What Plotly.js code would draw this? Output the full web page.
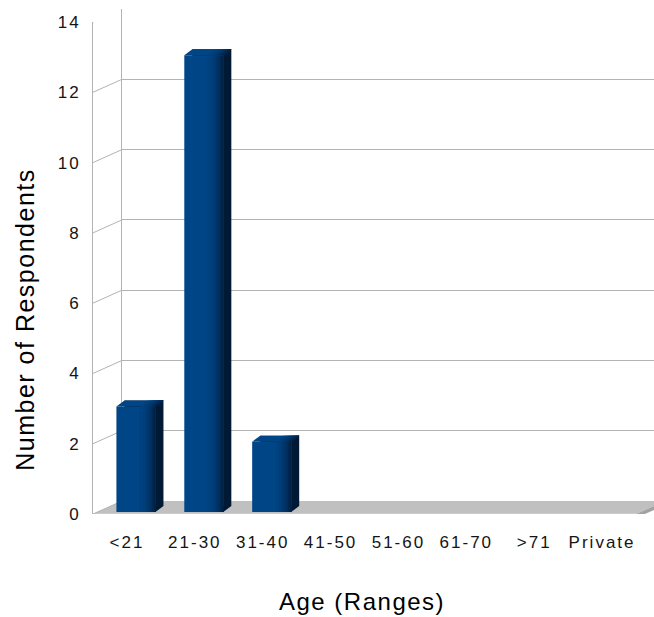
<!DOCTYPE html>
<html>
<head>
<meta charset="utf-8">
<script src="https://cdn.plot.ly/plotly-3.0.1.min.js"></script>
<style>
  html, body { margin: 0; padding: 0; background: #ffffff; }
  #chart { width: 654px; height: 617px; }
  #chart .xtick text, #chart .ytick text { letter-spacing: 2px; }
  #chart .annotation-text { letter-spacing: 1.5px; }
</style>
</head>
<body>
<div id="chart"></div>
<script>
// Survey: number of respondents in each age bracket
const ageRanges = ['<21', '21-30', '31-40', '41-50', '51-60', '61-70', '>71', 'Private'];
const respondents = [3, 13, 2, 0, 0, 0, 0, 0];
const yTickValues = [0, 2, 4, 6, 8, 10, 12, 14];

// ---- geometry of the pseudo-3D box (pixels) ----
const W = 654, H = 617;
const FRONT = { left: 93, right: 636, top: 22, bottom: 514 };  // front edge of floor / left wall
const WALL = { dx: 29, dy: 13 };                                 // depth of the box
const BAR = { dx: 9, dy: 2, width: 0.575, depthX: 8, depthY: 6 }; // bar placement and block depth
const nCat = ageRanges.length;
const catPx = (FRONT.right - FRONT.left) / nCat;
const barPx = BAR.width * catPx;

const xd = (a, b) => [a / W, Math.min(1, b / W)];
const yd = (top, bottom) => [1 - bottom / H, 1 - top / H];

const FONT = 'Liberation Sans, Arial, Helvetica, sans-serif';
const GRID = '#b3b3b3';

// front face shading: each layer starts at the given fraction of the face
// width and runs to its right edge, darkening towards the side
const faceShades = [
  [0.00, '#004586'],
  [0.60, '#004280'],
  [0.68, '#003e79'],
  [0.75, '#003971'],
  [0.81, '#003468'],
  [0.87, '#002e5d'],
  [0.92, '#002851'],
  [0.96, '#002245']
];
const SIDE = '#001a36';

const traces = [
  // registers the categories on the front axes (draws nothing)
  { type: 'scatter', mode: 'none', x: ageRanges, y: respondents, xaxis: 'x', yaxis: 'y',
    hoverinfo: 'skip', showlegend: false },
  { type: 'scatter', mode: 'none', x: ageRanges, y: respondents, xaxis: 'x2', yaxis: 'y2',
    hoverinfo: 'skip', showlegend: false },
  // rear of each block (shows as the dark side face)
  { type: 'bar', x: ageRanges, y: respondents, xaxis: 'x3', yaxis: 'y3',
    width: BAR.width, offset: -BAR.width / 2,
    marker: { color: SIDE, line: { width: 0 } }, hoverinfo: 'skip', showlegend: false }
];
// front faces, layered shading
faceShades.forEach(([a, c]) => {
  traces.push({
    type: 'bar', x: ageRanges, y: respondents, xaxis: 'x4', yaxis: 'y4',
    width: (1 - a) * BAR.width, offset: -BAR.width / 2 + a * BAR.width,
    marker: { color: c, line: { width: 0 } },
    name: 'Respondents', hovertemplate: '%{x}: %{y}<extra></extra>', showlegend: false
  });
});

const shapes = [];
const floorAnchor = { xref: 'paper', yref: 'y', xsizemode: 'pixel', ysizemode: 'pixel',
                      xanchor: FRONT.left / W, yanchor: 0, layer: 'below' };
const fw = FRONT.right - FRONT.left;
// floor: top surface, front edge and right end
shapes.push(Object.assign({}, floorAnchor, { type: 'path',
  path: `M0,0 L${fw},0 L${fw + WALL.dx},${WALL.dy} L${WALL.dx},${WALL.dy} Z`,
  fillcolor: '#c0c0c0', line: { width: 0 } }));
shapes.push(Object.assign({}, floorAnchor, { type: 'path',
  path: `M0,0 L${fw},0 L${fw},-4 L0,-4 Z`,
  fillcolor: '#b6b6b6', line: { width: 0 } }));
shapes.push(Object.assign({}, floorAnchor, { type: 'path',
  path: `M0,0 L${fw},0`, line: { color: '#d6d6d6', width: 1 } }));
shapes.push(Object.assign({}, floorAnchor, { type: 'path',
  path: `M${fw},0 L${fw + WALL.dx},${WALL.dy} L${fw + WALL.dx},${WALL.dy - 4} L${fw},-4 Z`,
  fillcolor: '#a3a3a3', line: { width: 0 } }));
// left wall: receding lines at every tick
yTickValues.forEach(v => {
  shapes.push({ type: 'line', xref: 'paper', yref: 'y', xsizemode: 'pixel', ysizemode: 'pixel',
    xanchor: FRONT.left / W, yanchor: v, x0: 0, y0: 0, x1: WALL.dx, y1: WALL.dy,
    line: { color: GRID, width: 1 }, layer: 'below' });
});
// block tops and lower side corners
respondents.forEach((v, i) => {
  if (v <= 0) return;
  const r = barPx / 2;
  faceShades.forEach(([a, c]) => {
    const l = -barPx / 2 + a * barPx;
    shapes.push({ type: 'path', xref: 'x4', yref: 'y4', xsizemode: 'pixel', ysizemode: 'pixel',
      xanchor: i, yanchor: v,
      path: `M${l},0 L${r},0 L${r + BAR.depthX},${BAR.depthY} L${l + BAR.depthX},${BAR.depthY} Z`,
      fillcolor: c, line: { width: 0 }, layer: 'above' });
  });
  shapes.push({ type: 'path', xref: 'x4', yref: 'y4', xsizemode: 'pixel', ysizemode: 'pixel',
    xanchor: i, yanchor: 0,
    path: `M${r},0 L${r},${BAR.depthY} L${r + BAR.depthX},${BAR.depthY} Z`,
    fillcolor: SIDE, line: { width: 0 }, layer: 'above' });
});

const hidden = { visible: false, fixedrange: true };
const layout = {
  width: W, height: H,
  margin: { l: 0, r: 0, t: 0, b: 0 },
  paper_bgcolor: '#ffffff', plot_bgcolor: 'rgba(0,0,0,0)',
  showlegend: false, barmode: 'overlay',
  font: { family: FONT, color: '#1a1a1a' },
  // front frame: carries the tick labels
  xaxis: { domain: xd(FRONT.left, FRONT.right), anchor: 'y', type: 'category',
    range: [-0.5, nCat - 0.5], showgrid: false, zeroline: false, showline: false, ticks: '',
    tickfont: { family: FONT, size: 17, color: '#141414' }, ticklabelstandoff: 16, fixedrange: true },
  yaxis: { domain: yd(FRONT.top, FRONT.bottom), anchor: 'x', range: [0, 14],
    tickmode: 'array', tickvals: yTickValues, showgrid: false, zeroline: false,
    showline: true, linecolor: GRID, linewidth: 1, ticks: '',
    tickfont: { family: FONT, size: 17, color: '#141414' }, ticklabelstandoff: 8, fixedrange: true },
  // back wall: grid
  xaxis2: Object.assign({ domain: xd(FRONT.left + WALL.dx, W), anchor: 'y2', type: 'category',
    range: [-0.5, -0.5 + (W - FRONT.left - WALL.dx) / catPx] }, hidden),
  yaxis2: { domain: yd(FRONT.top - WALL.dy, FRONT.bottom - WALL.dy), anchor: 'x2', range: [0, 14],
    tickmode: 'array', tickvals: yTickValues, showgrid: true, gridcolor: GRID, gridwidth: 1,
    zeroline: false, showline: true, linecolor: GRID, linewidth: 1, ticks: '',
    showticklabels: false, fixedrange: true },
  // rear of the blocks
  xaxis3: Object.assign({ domain: xd(FRONT.left + BAR.dx + BAR.depthX, FRONT.right + BAR.dx + BAR.depthX),
    anchor: 'y3', type: 'category', range: [-0.5, nCat - 0.5] }, hidden),
  yaxis3: Object.assign({ domain: yd(FRONT.top - BAR.dy - BAR.depthY, FRONT.bottom - BAR.dy - BAR.depthY),
    anchor: 'x3', range: [0, 14] }, hidden),
  // front of the blocks
  xaxis4: Object.assign({ domain: xd(FRONT.left + BAR.dx, FRONT.right + BAR.dx),
    anchor: 'y4', type: 'category', range: [-0.5, nCat - 0.5] }, hidden),
  yaxis4: Object.assign({ domain: yd(FRONT.top - BAR.dy, FRONT.bottom - BAR.dy),
    anchor: 'x4', range: [0, 14] }, hidden),
  shapes: shapes,
  annotations: [
    { text: 'Age (Ranges)', xref: 'paper', yref: 'paper', x: 362 / W, y: 1 - 601 / H,
      xanchor: 'center', yanchor: 'middle', showarrow: false,
      font: { family: FONT, size: 24, color: '#000000' } },
    { text: 'Number of Respondents', xref: 'paper', yref: 'paper', x: 25 / W, y: 1 - 320 / H,
      xanchor: 'center', yanchor: 'middle', textangle: -90, showarrow: false,
      font: { family: FONT, size: 25, color: '#000000' } }
  ]
};

Plotly.newPlot('chart', traces, layout, { displayModeBar: false, staticPlot: true });
</script>
</body>
</html>
